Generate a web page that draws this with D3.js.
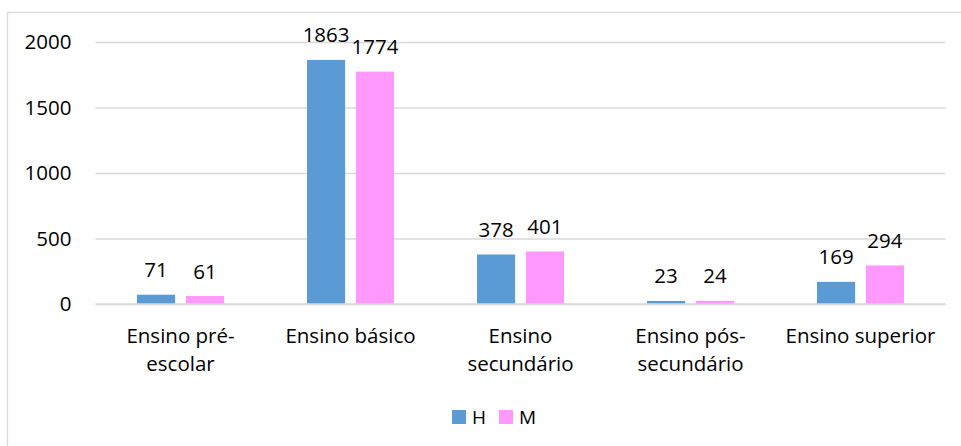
<!DOCTYPE html>
<html>
<head>
<meta charset="utf-8">
<script src="https://cdnjs.cloudflare.com/ajax/libs/d3/7.8.5/d3.min.js"></script>
<style>
	body { margin: 0; background: #fff; }
	text { font-family: "Open Sans", "Noto Sans", sans-serif; fill: #000; }
</style>
</head>
<body>
<div id="graph"></div>
<script>
var width = 961
var height = 446

// data
var categories = ["Ensino pré-escolar", "Ensino básico", "Ensino secundário", "Ensino pós-secundário", "Ensino superior"];
var series = ["H", "M"];
var valuesH = [71, 1863, 378, 23, 169];
var valuesM = [61, 1774, 401, 24, 294];
var yTicks = [0, 500, 1000, 1500, 2000];

var colors = { "H": "#5B9BD5", "M": "#FF99FF" };
var values = { "H": valuesH, "M": valuesM };
var fontSize = 20.5;

var svg = d3.select("#graph")
	.append("svg")
	.attr("width", width)
	.attr("height", height);

// chart border (runs off the right and bottom of the picture)
svg.append("rect")
	.attr("x", 7.5)
	.attr("y", 12.5)
	.attr("width", 1000)
	.attr("height", 1000)
	.attr("fill", "none")
	.attr("stroke", "#D9D9D9")
	.attr("stroke-width", 1.3);

var x0 = d3.scaleBand()
	.domain(categories)
	.range([95.5, 945.5]);

var x1 = d3.scaleBand()
	.domain(series)
	.range([0, x0.bandwidth()])
	.paddingInner(0.22)
	.paddingOuter(0.85);

var y = d3.scaleLinear()
	.domain([0, 2000])
	.range([304, 42]);

// gridlines and y labels
var yAxis = d3.axisLeft(y)
	.tickValues(yTicks)
	.tickFormat(d3.format("d"))
	.tickSize(-(945.5 - 95.5))
	.tickPadding(24);

var yg = svg.append("g")
	.attr("transform", "translate(95.5,0)")
	.call(yAxis);
yg.select(".domain").remove();
yg.selectAll(".tick line")
	.attr("stroke", "#D9D9D9")
	.attr("stroke-width", 1.3);
yg.selectAll(".tick text")
	.attr("font-size", fontSize)
	.attr("font-family", "'Open Sans', sans-serif")
	.attr("fill", "#000");

// bars
var rows = [];
categories.forEach((c, i) => {
	series.forEach((s) => {
		rows.push({ cat: c, key: s, value: values[s][i] });
	});
});

svg.append("g")
	.selectAll("rect")
	.data(rows)
	.enter()
	.append("rect")
	.attr("x", (d) => x0(d.cat) + x1(d.key))
	.attr("y", (d) => y(d.value))
	.attr("width", x1.bandwidth())
	.attr("height", (d) => y(0) - y(d.value))
	.attr("fill", (d) => colors[d.key]);

// zero line on top of bars
svg.append("line")
	.attr("x1", 95.5)
	.attr("x2", 945.5)
	.attr("y1", y(0))
	.attr("y2", y(0))
	.attr("stroke", "#D9D9D9")
	.attr("stroke-width", 1.3);

// value labels
svg.append("g")
	.selectAll("text")
	.data(rows)
	.enter()
	.append("text")
	.attr("x", (d) => x0(d.cat) + x1(d.key) + x1.bandwidth() / 2)
	.attr("y", (d) => y(d.value) - 17.5)
	.attr("text-anchor", "middle")
	.attr("font-size", fontSize)
	.text((d) => d.value);

// category labels, wrapped to the band
var maxLine = 158;
var catLabel = svg.append("g")
	.selectAll("text")
	.data(categories)
	.enter()
	.append("text")
	.attr("text-anchor", "middle")
	.attr("font-size", fontSize);

catLabel.each(function (d) {
	var el = d3.select(this);
	var cx = x0(d) + x0.bandwidth() / 2;
	var tokens = d.match(/[^\s-]+-?/g);
	var lines = [];
	var cur = "";
	tokens.forEach((t) => {
		var trial = cur === "" ? t : (cur.endsWith("-") ? cur + t : cur + " " + t);
		el.text(trial);
		if (cur !== "" && this.getComputedTextLength() > maxLine) {
			lines.push(cur);
			cur = t;
		} else {
			cur = trial;
		}
	});
	lines.push(cur);
	el.text(null);
	el.selectAll("tspan")
		.data(lines)
		.enter()
		.append("tspan")
		.attr("x", cx)
		.attr("y", (l, i) => 343 + i * 28)
		.text((l) => l);
});

// legend
var legendX = [452, 499];
var legend = svg.append("g")
	.selectAll("g")
	.data(series)
	.enter()
	.append("g")
	.attr("transform", (d, i) => "translate(" + legendX[i] + ",410)");

legend.append("rect")
	.attr("width", 14)
	.attr("height", 14)
	.attr("fill", (d) => colors[d]);

legend.append("text")
	.attr("x", 20)
	.attr("y", 14)
	.attr("font-size", 19)
	.text((d) => d);
</script>
</body>
</html>
